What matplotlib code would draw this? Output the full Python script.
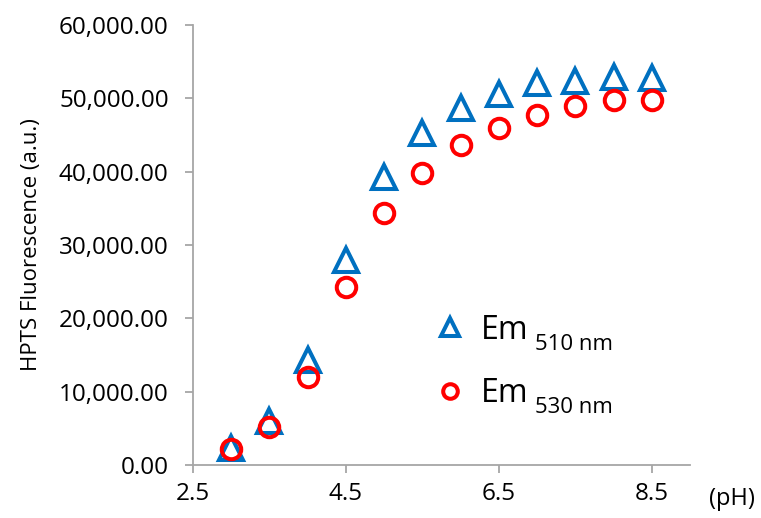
"""HPTS fluorescence vs pH at two emission wavelengths."""

import matplotlib
import matplotlib.pyplot as plt
from matplotlib.ticker import FuncFormatter, MultipleLocator

matplotlib.use("Agg")

# ── data ────────────────────────────────────────────────────────────
ph = [3.0, 3.5, 4.0, 4.5, 5.0, 5.5, 6.0, 6.5, 7.0, 7.5, 8.0, 8.5]
em_510 = [2300, 6000, 14300, 28000, 39300, 45300, 48700, 50600,
          52100, 52400, 52900, 52800]
em_530 = [2200, 5200, 12000, 24300, 34400, 39800, 43600, 46000,
          47700, 49000, 49800, 49800]
x_ticks = [2.5, 4.5, 6.5, 8.5]
subscripts = ["510 nm", "530 nm"]

BLUE = "#0070C0"
RED = "#FF0000"
AXIS_GREY = "#A6A6A6"

plt.rcParams["font.family"] = ["Open Sans", "DejaVu Sans"]

fig = plt.figure(figsize=(7.61, 5.18), dpi=100)
ax = fig.add_axes([0.2536, 0.1023, 0.6531, 0.8494])

ax.plot(ph, em_510, linestyle="none", marker="^", markersize=17,
        markerfacecolor="none", markeredgecolor=BLUE, markeredgewidth=2.9,
        label="Em", zorder=3)
ax.plot(ph, em_530, linestyle="none", marker="o", markersize=14,
        markerfacecolor="none", markeredgecolor=RED, markeredgewidth=2.9,
        label="Em", zorder=4)

ax.set_xlim(2.5, 9.0)
ax.set_ylim(0, 60000)
ax.set_xticks(x_ticks)
ax.yaxis.set_major_locator(MultipleLocator(10000))
ax.yaxis.set_major_formatter(FuncFormatter(lambda v, _: f"{v:,.2f}"))

for side in ("top", "right"):
    ax.spines[side].set_visible(False)
for side in ("left", "bottom"):
    ax.spines[side].set_color(AXIS_GREY)
    ax.spines[side].set_linewidth(1.3)
ax.tick_params(axis="both", colors=AXIS_GREY, length=5.5, width=1.3,
               labelcolor="black", labelsize=17.5)
ax.tick_params(axis="x", pad=7)
ax.tick_params(axis="y", pad=12)

ax.set_ylabel("HPTS Fluorescence (a.u.)", fontsize=16, labelpad=12)
ax.text(1.085, -0.078, "(pH)", transform=ax.transAxes, fontsize=17,
        ha="center", va="center")

leg = ax.legend(loc="lower left", bbox_to_anchor=(0.428, 0.06), frameon=False,
                fontsize=23, markerscale=0.75, handletextpad=0.45,
                labelspacing=0.95, handlelength=1.0)

# subscripts hang off the right of each "Em"
for txt, sub in zip(leg.get_texts(), subscripts):
    ax.annotate(sub, xy=(1, 0), xycoords=txt, xytext=(5, -2.5),
                textcoords="offset points", fontsize=16,
                ha="left", va="baseline", zorder=10)

fig.savefig("out.png", dpi=100)
